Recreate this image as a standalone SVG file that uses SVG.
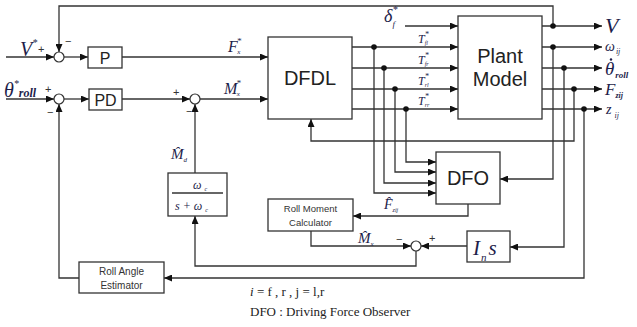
<svg xmlns="http://www.w3.org/2000/svg" width="637" height="327" viewBox="0 0 637 327">
<style>
.ln{fill:none;stroke:#333;stroke-width:1.3}
.bx{fill:#fff;stroke:#333;stroke-width:1.3}
.sum{fill:#fff;stroke:#333;stroke-width:1.2}
.dot{fill:#111}
.big{font-family:"Liberation Sans",Arial,sans-serif;font-size:20px;fill:#222;text-anchor:middle}
.sm{font-family:"Liberation Sans",Arial,sans-serif;font-size:9.5px;fill:#333;text-anchor:middle}
.m{font-family:"Liberation Serif","Times New Roman",serif;font-style:italic;fill:#1d1d4a}
.sg{font-family:"Liberation Sans",Arial,sans-serif;font-size:11px;fill:#333}
.ft{font-family:"Liberation Serif","Times New Roman",serif;font-size:13px;fill:#222}
</style>
<defs>
<marker id="ah" markerWidth="8" markerHeight="7" refX="8" refY="3.5" orient="auto" markerUnits="userSpaceOnUse">
<path d="M0,0 L8,3.5 L0,7 z" fill="#111"/>
</marker>
</defs>
<rect width="637" height="327" fill="#fff"/>
<g id="connectors">
<path class="ln" d="M6,57 H54" marker-end="url(#ah)"/>
<path class="ln" d="M64,57 H88" marker-end="url(#ah)"/>
<path class="ln" d="M122,57 H268" marker-end="url(#ah)"/>
<path class="ln" d="M6,99 H54" marker-end="url(#ah)"/>
<path class="ln" d="M64,99 H89" marker-end="url(#ah)"/>
<path class="ln" d="M122,99 H190" marker-end="url(#ah)"/>
<path class="ln" d="M200,99 H268" marker-end="url(#ah)"/>
<path class="ln" d="M553,26 V6 H59 V52" marker-end="url(#ah)"/>
<path class="ln" d="M405,26 H458" marker-end="url(#ah)"/>
<path class="ln" d="M352,47 H458" marker-end="url(#ah)"/>
<path class="ln" d="M352,68 H458" marker-end="url(#ah)"/>
<path class="ln" d="M352,89 H458" marker-end="url(#ah)"/>
<path class="ln" d="M352,109 H458" marker-end="url(#ah)"/>
<path class="ln" d="M542,26 H602" marker-end="url(#ah)"/>
<path class="ln" d="M542,47 H602" marker-end="url(#ah)"/>
<path class="ln" d="M542,68 H602" marker-end="url(#ah)"/>
<path class="ln" d="M542,89 H602" marker-end="url(#ah)"/>
<path class="ln" d="M542,109 H602" marker-end="url(#ah)"/>
<path class="ln" d="M553,47 V179 H500" marker-end="url(#ah)"/>
<path class="ln" d="M564,68 V247 H510" marker-end="url(#ah)"/>
<path class="ln" d="M574,89 V141 H311 V119" marker-end="url(#ah)"/>
<path class="ln" d="M584,109 V278 H164" marker-end="url(#ah)"/>
<path class="ln" d="M406,109 V162 H436" marker-end="url(#ah)"/>
<path class="ln" d="M395,89 V172 H436" marker-end="url(#ah)"/>
<path class="ln" d="M384,68 V183 H436" marker-end="url(#ah)"/>
<path class="ln" d="M374,47 V193 H436" marker-end="url(#ah)"/>
<path class="ln" d="M468,204 V216 H353" marker-end="url(#ah)"/>
<path class="ln" d="M311,231 V246 H411" marker-end="url(#ah)"/>
<path class="ln" d="M467,246 H421" marker-end="url(#ah)"/>
<path class="ln" d="M416,251 V266 H195 V216" marker-end="url(#ah)"/>
<path class="ln" d="M195,173 V104" marker-end="url(#ah)"/>
<path class="ln" d="M79,278 H59 V104" marker-end="url(#ah)"/>
<circle class="dot" cx="553" cy="26" r="2.8"/>
<circle class="dot" cx="553" cy="47" r="2.8"/>
<circle class="dot" cx="564" cy="68" r="2.8"/>
<circle class="dot" cx="574" cy="89" r="2.8"/>
<circle class="dot" cx="584" cy="109" r="2.8"/>
<circle class="dot" cx="374" cy="47" r="2.8"/>
<circle class="dot" cx="384" cy="68" r="2.8"/>
<circle class="dot" cx="395" cy="89" r="2.8"/>
<circle class="dot" cx="406" cy="109" r="2.8"/>
</g>
<g id="sum1"><circle class="sum" cx="59" cy="57" r="5"/></g>
<g id="sum2"><circle class="sum" cx="59" cy="99" r="5"/></g>
<g id="sum3"><circle class="sum" cx="195" cy="99" r="5"/></g>
<g id="sum4"><circle class="sum" cx="416" cy="246" r="5"/></g>
<g id="P"><rect class="bx" x="88" y="47" width="34" height="21"/><text class="big" x="105" y="64" style="font-size:16px">P</text></g>
<g id="PD"><rect class="bx" x="89" y="89" width="33" height="21"/><text class="big" x="105.5" y="106" style="font-size:16px">PD</text></g>
<g id="DFDL"><rect class="bx" x="268" y="37" width="84" height="82"/><text class="big" x="310" y="85">DFDL</text></g>
<g id="Plant"><rect class="bx" x="458" y="16" width="84" height="103"/><text class="big" x="500" y="63">Plant</text><text class="big" x="500" y="86">Model</text></g>
<g id="DFO"><rect class="bx" x="436" y="152" width="64" height="52"/><text class="big" x="468" y="185">DFO</text></g>
<g id="RMC"><rect class="bx" x="268" y="199" width="85" height="32"/><text class="sm" x="310.5" y="212">Roll Moment</text><text class="sm" x="310.5" y="226">Calculator</text></g>
<g id="Ins"><rect class="bx" x="467" y="231" width="43" height="31"/><text class="m" x="473" y="255" style="font-size:21px">I<tspan dx="1" dy="6" font-size="11">n</tspan><tspan dx="2" dy="-6">s</tspan></text></g>
<g id="filter"><rect class="bx" x="168" y="173" width="59" height="43"/><line class="ln" x1="172" y1="193" x2="223" y2="193"/><text class="m" x="193" y="189" style="font-size:12px">ω<tspan dy="2" font-size="6" dx="3">c</tspan></text><text class="m" x="175" y="210" style="font-size:12px">s + ω<tspan dy="2" font-size="6" dx="3">c</tspan></text></g>
<g id="RAE"><rect class="bx" x="79" y="262" width="85" height="31"/><text class="sm" x="121.5" y="275" style="font-size:10px">Roll Angle</text><text class="sm" x="121.5" y="289" style="font-size:10px">Estimator</text></g>
<g id="labels">
<text class="m" x="20" y="56" style="font-size:20px">V<tspan dx="0" dy="-10" font-size="10">*</tspan></text>
<text class="sg" x="38" y="53">+</text><text class="sg" x="65" y="45">−</text>
<text class="m" x="4" y="97" style="font-size:20px">θ<tspan dy="-10" font-size="10">*</tspan><tspan dy="10" font-size="12" font-weight="bold">roll</tspan></text>
<text class="sg" x="45" y="93">+</text><text class="sg" x="47" y="116">−</text>
<text class="sg" x="173" y="96">+</text><text class="sg" x="186" y="115">−</text>
<text class="m" x="228" y="52" style="font-size:16px">F<tspan dx="-1" dy="-8" font-size="9">*</tspan><tspan dx="-4" dy="10" font-size="7">x</tspan></text>
<text class="m" x="224" y="94" style="font-size:16px">M<tspan dx="-1" dy="-8" font-size="9">*</tspan><tspan dx="-4" dy="10" font-size="7">x</tspan></text>
<text class="m" x="171" y="159" style="font-size:15px">M&#x302;<tspan dy="3" font-size="7">d</tspan></text>
<text class="m" x="384" y="22" style="font-size:18px">δ<tspan dx="0" dy="-9" font-size="10">*</tspan><tspan dx="-5" dy="14" font-size="9">f</tspan></text>
<text class="m" x="418" y="43" style="font-size:12px">T<tspan dy="-6" font-size="8">*</tspan><tspan dx="-4" dy="8" font-size="6">fl</tspan></text>
<text class="m" x="418" y="64" style="font-size:12px">T<tspan dy="-6" font-size="8">*</tspan><tspan dx="-4" dy="8" font-size="6">fr</tspan></text>
<text class="m" x="418" y="85" style="font-size:12px">T<tspan dy="-6" font-size="8">*</tspan><tspan dx="-4" dy="8" font-size="6">rl</tspan></text>
<text class="m" x="418" y="105" style="font-size:12px">T<tspan dy="-6" font-size="8">*</tspan><tspan dx="-4" dy="8" font-size="6">rr</tspan></text>
<text class="m" x="605" y="33" style="font-size:22px">V</text>
<text class="m" x="605" y="51" style="font-size:14px">ω<tspan dx="1" dy="3" font-size="8">ij</tspan></text>
<circle cx="611" cy="59.5" r="1.2" fill="#1d1d4a"/>
<text class="m" x="605" y="75" style="font-size:19px">θ<tspan dx="1" dy="3" font-size="9" font-weight="bold">roll</tspan></text>
<text class="m" x="605" y="95" style="font-size:17px">F<tspan dy="3" font-size="8" font-weight="bold">zij</tspan></text>
<text class="m" x="606" y="114" style="font-size:14px">z<tspan dx="3" dy="4" font-size="8">ij</tspan></text>
<text class="m" x="384" y="209" style="font-size:14px">F&#x302;<tspan dy="3" font-size="6">zij</tspan></text>
<text class="m" x="358" y="243" style="font-size:15px">M&#x302;<tspan dy="3" font-size="7">x</tspan></text>
<text class="sg" x="396" y="243">−</text><text class="sg" x="429" y="242">+</text>
<text class="ft" x="250" y="296"><tspan font-style="italic">i</tspan> = f , r , j = l,r</text>
<text class="ft" x="250" y="316">DFO : Driving  Force Observer</text>
</g>
</svg>
